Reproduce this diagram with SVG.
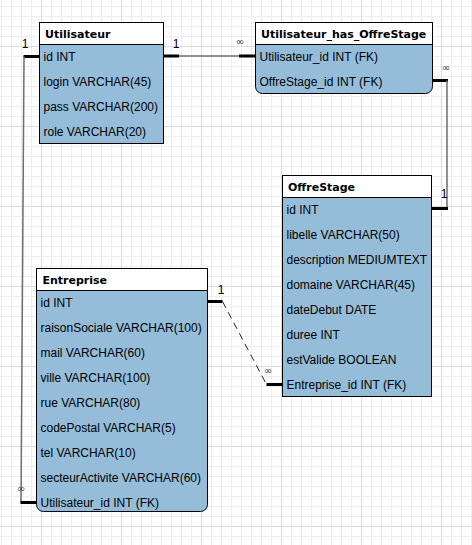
<svg xmlns="http://www.w3.org/2000/svg" width="472" height="545" viewBox="0 0 472 545">
<defs>
<pattern id="minor" patternUnits="userSpaceOnUse" x="1" y="6" width="10" height="10">
<rect x="0" y="0" width="1" height="10" fill="#eeeeee"/>
<rect x="0" y="0" width="10" height="1" fill="#eeeeee"/>
</pattern>
<pattern id="major" patternUnits="userSpaceOnUse" x="41" y="46" width="80" height="80">
<rect x="0" y="0" width="1" height="80" fill="#dcdcdc"/>
<rect x="0" y="0" width="80" height="1" fill="#dcdcdc"/>
</pattern>
<style>
.body{fill:#95bdd9;stroke:#000;stroke-width:1}
.head{fill:#ffffff;stroke:#000;stroke-width:1}
.title{font-family:"DejaVu Sans",sans-serif;font-weight:bold;font-size:11px;fill:#000}
.row{font-family:"Liberation Sans",Arial,sans-serif;font-size:12px;fill:#000}
.thick{stroke:#000;stroke-width:3;fill:none}
.thin{stroke:#6e6e6e;stroke-width:1.5;fill:none}
.dash{stroke:#222;stroke-width:1;fill:none;stroke-dasharray:7 5}
.card{font-family:"Liberation Sans",Arial,sans-serif;font-size:12px;fill:#000;text-anchor:middle}
.inf{font-family:"DejaVu Sans",sans-serif;font-size:10px;fill:#333;text-anchor:middle}
</style>
</defs>
<rect width="472" height="545" fill="#fff"/>
<rect width="472" height="545" fill="url(#minor)"/>
<rect width="472" height="545" fill="url(#major)"/>

<g id="connectors">
<path class="thick" d="M163.5 56H179"/>
<path class="thin" d="M179 56H239"/>
<path class="thick" d="M239 56H255.5"/>
<text class="card" x="176" y="48">1</text>
<text class="inf" x="240" y="45">∞</text>

<path class="thick" d="M39.5 56.5H23.5"/>
<path class="thin" d="M24 56.5L21 502.5"/>
<path class="thick" d="M20.5 502.5H36.5"/>
<text class="card" x="25" y="47.5">1</text>
<text class="inf" x="21" y="492">∞</text>

<path class="thick" d="M432.5 80.5H448"/>
<path class="thin" d="M447 80.5V208.5"/>
<path class="thick" d="M448 208.5H431.5"/>
<text class="inf" x="446" y="71">∞</text>
<text class="card" x="444" y="198">1</text>

<path class="thick" d="M207.5 301.5H222.5"/>
<path class="dash" d="M222.5 301.5L266.5 384.5"/>
<path class="thick" d="M266.5 384.5H282.5"/>
<text class="card" x="221" y="294">1</text>
<text class="inf" x="268" y="373.5">∞</text>
</g>

<g id="Utilisateur">
<rect class="body" x="39.5" y="22.5" width="124" height="121"/>
<rect class="head" x="39.5" y="22.5" width="124" height="22"/>
<text class="title" x="45" y="37.5">Utilisateur</text>
<text class="row" x="43.5" y="61">id INT</text>
<text class="row" x="43.5" y="86">login VARCHAR(45)</text>
<text class="row" x="43.5" y="111">pass VARCHAR(200)</text>
<text class="row" x="43.5" y="136">role VARCHAR(20)</text>
</g>

<g id="Utilisateur_has_OffreStage">
<path class="body" d="M255.5 22.5H432.5V86.5A7 7 0 0 1 425.5 93.5H262.5A7 7 0 0 1 255.5 86.5Z"/>
<rect class="head" x="255.5" y="22.5" width="177" height="22"/>
<text class="title" x="261" y="37.5">Utilisateur_has_OffreStage</text>
<text class="row" x="259.5" y="61">Utilisateur_id INT (FK)</text>
<text class="row" x="259.5" y="86">OffreStage_id INT (FK)</text>
</g>

<g id="OffreStage">
<rect class="body" x="282.5" y="175.5" width="149" height="221"/>
<rect class="head" x="282.5" y="175.5" width="149" height="22"/>
<text class="title" x="288" y="190.5">OffreStage</text>
<text class="row" x="286.5" y="214">id INT</text>
<text class="row" x="286.5" y="239">libelle VARCHAR(50)</text>
<text class="row" x="286.5" y="264">description MEDIUMTEXT</text>
<text class="row" x="286.5" y="289">domaine VARCHAR(45)</text>
<text class="row" x="286.5" y="314">dateDebut DATE</text>
<text class="row" x="286.5" y="339">duree INT</text>
<text class="row" x="286.5" y="364">estValide BOOLEAN</text>
<text class="row" x="286.5" y="389">Entreprise_id INT (FK)</text>
</g>

<g id="Entreprise">
<path class="body" d="M36.5 268.5H207.5V504.5A7 7 0 0 1 200.5 511.5H43.5A7 7 0 0 1 36.5 504.5Z"/>
<rect class="head" x="36.5" y="268.5" width="171" height="22"/>
<text class="title" x="42.5" y="283.5">Entreprise</text>
<text class="row" x="40.5" y="306.5">id INT</text>
<text class="row" x="40.5" y="331.5">raisonSociale VARCHAR(100)</text>
<text class="row" x="40.5" y="356.5">mail VARCHAR(60)</text>
<text class="row" x="40.5" y="381.5">ville VARCHAR(100)</text>
<text class="row" x="40.5" y="406.5">rue VARCHAR(80)</text>
<text class="row" x="40.5" y="431.5">codePostal VARCHAR(5)</text>
<text class="row" x="40.5" y="456.5">tel VARCHAR(10)</text>
<text class="row" x="40.5" y="481.5">secteurActivite VARCHAR(60)</text>
<text class="row" x="40.5" y="506.5">Utilisateur_id INT (FK)</text>
</g>
</svg>
